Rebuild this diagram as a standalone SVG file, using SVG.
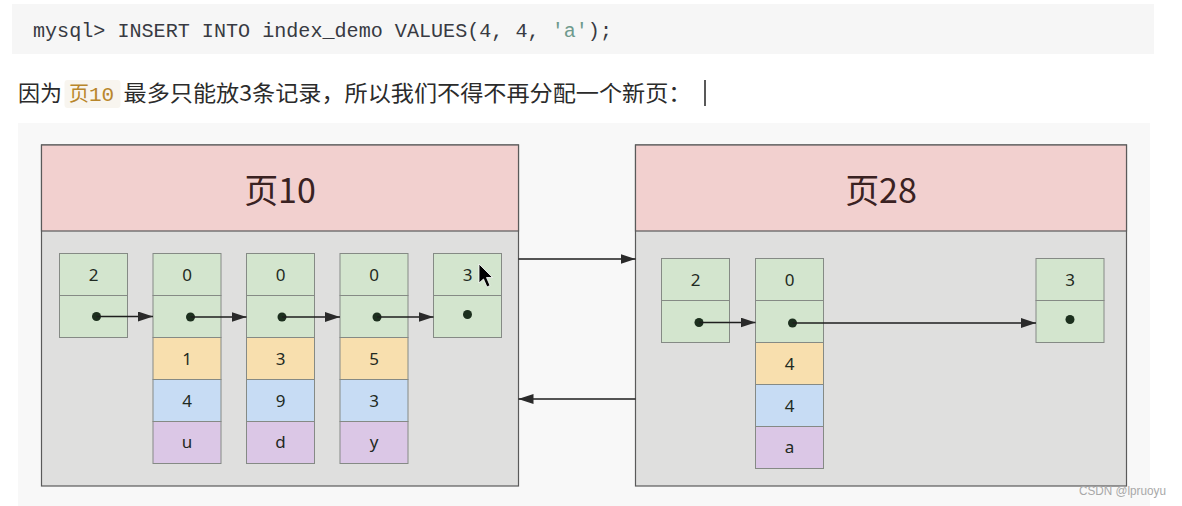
<svg xmlns="http://www.w3.org/2000/svg" width="1182" height="506" viewBox="0 0 1182 506">
<defs>
<style>
.page{fill:#dfdfde;stroke:#5a5a5a;stroke-width:1.2}
.head{fill:#f2d0cf;stroke:#5a5a5a;stroke-width:1.2}
.title{font-family:"Noto Sans CJK SC","Noto Sans",sans-serif;font-size:34px;fill:#3a2222;text-anchor:middle}
.g{fill:#d3e5ce;stroke:#858a85;stroke-width:1}
.y{fill:#f8dfae;stroke:#858a85;stroke-width:1}
.b{fill:#c7dcf4;stroke:#858a85;stroke-width:1}
.p{fill:#dbc7e6;stroke:#858a85;stroke-width:1}
.t{font-family:"Noto Sans","Open Sans",sans-serif;font-size:17px;fill:#1f2a22;text-anchor:middle}
.dot{fill:#1c2f1e}
.ln{stroke:#1e1e1e;stroke-width:1.5;fill:none}
</style>
<marker id="ah" markerWidth="15" markerHeight="10" refX="15" refY="5" orient="auto" markerUnits="userSpaceOnUse">
<path d="M0,0 L15,5 L0,10 Z" fill="#2a2a2a"/>
</marker>
</defs>
<rect x="0" y="0" width="1182" height="506" fill="#ffffff"/>
<!-- code block -->
<rect x="12" y="4" width="1142" height="50" fill="#f6f6f6"/>
<text x="33" y="37" font-family="Liberation Mono, DejaVu Sans Mono, monospace" font-size="20" fill="#383a42" textLength="579" lengthAdjust="spacingAndGlyphs">mysql&gt; INSERT INTO index_demo VALUES(4, 4, <tspan fill="#6f9a8d">'a'</tspan>);</text>
<!-- sentence -->
<text x="18" y="101" font-family="Noto Sans CJK SC, sans-serif" font-size="22" fill="#2b2b2b" textLength="44" lengthAdjust="spacingAndGlyphs">因为</text>
<rect x="64.5" y="80" width="56" height="28" rx="3" fill="#f8f5ef"/>
<text x="69" y="101" font-family="Noto Sans CJK SC, sans-serif" font-size="20" fill="#b8862b">页<tspan font-family="Liberation Mono, monospace" font-size="21">10</tspan></text>
<text x="123.5" y="101" font-family="Noto Sans CJK SC, sans-serif" font-size="22" fill="#2b2b2b" textLength="568" lengthAdjust="spacingAndGlyphs">最多只能放3条记录，所以我们不得不再分配一个新页：</text>
<line x1="705" y1="80" x2="705" y2="106" stroke="#222" stroke-width="1.5"/>
<!-- diagram panel -->
<rect x="18" y="123" width="1132" height="383" fill="#f8f8f8"/>

<g id="page10">
<rect class="page" x="41.5" y="145" width="477" height="341"/>
<rect class="head" x="41.5" y="145" width="477" height="86"/>
<text class="title" x="280" y="203">页10</text>
</g>
<g id="p10-rec1">
<rect class="g" x="59.5" y="253.5" width="68" height="42"/><rect class="g" x="59.5" y="295.5" width="68" height="42"/>
<text class="t" x="93.5" y="280.5">2</text><circle class="dot" cx="96.5" cy="316.5" r="4.5"/>
</g>
<g id="p10-rec2">
<rect class="g" x="153" y="253.5" width="68" height="42"/><rect class="g" x="153" y="295.5" width="68" height="42"/>
<rect class="y" x="153" y="337.5" width="68" height="42"/><rect class="b" x="153" y="379.5" width="68" height="42"/><rect class="p" x="153" y="421.5" width="68" height="42"/>
<text class="t" x="187" y="280.5">0</text><circle class="dot" cx="190.5" cy="317" r="4.5"/>
<text class="t" x="187" y="364.5">1</text><text class="t" x="187" y="406.5">4</text><text class="t" x="187" y="448">u</text>
</g>
<g id="p10-rec3">
<rect class="g" x="246.5" y="253.5" width="68" height="42"/><rect class="g" x="246.5" y="295.5" width="68" height="42"/>
<rect class="y" x="246.5" y="337.5" width="68" height="42"/><rect class="b" x="246.5" y="379.5" width="68" height="42"/><rect class="p" x="246.5" y="421.5" width="68" height="42"/>
<text class="t" x="280.5" y="280.5">0</text><circle class="dot" cx="282" cy="317" r="4.5"/>
<text class="t" x="280.5" y="364.5">3</text><text class="t" x="280.5" y="406.5">9</text><text class="t" x="280.5" y="448">d</text>
</g>
<g id="p10-rec4">
<rect class="g" x="340" y="253.5" width="68" height="42"/><rect class="g" x="340" y="295.5" width="68" height="42"/>
<rect class="y" x="340" y="337.5" width="68" height="42"/><rect class="b" x="340" y="379.5" width="68" height="42"/><rect class="p" x="340" y="421.5" width="68" height="42"/>
<text class="t" x="374" y="280.5">0</text><circle class="dot" cx="377" cy="317" r="4.5"/>
<text class="t" x="374" y="364.5">5</text><text class="t" x="374" y="406.5">3</text><text class="t" x="374" y="448">y</text>
</g>
<g id="p10-rec5">
<rect class="g" x="433.5" y="253.5" width="68" height="42"/><rect class="g" x="433.5" y="295.5" width="68" height="42"/>
<text class="t" x="467.5" y="280.5">3</text><circle class="dot" cx="467.5" cy="314.5" r="4.5"/>
</g>

<g id="page28">
<rect class="page" x="635.5" y="145" width="491" height="341"/>
<rect class="head" x="635.5" y="145" width="491" height="86"/>
<text class="title" x="881" y="203">页28</text>
</g>
<g id="p28-rec1">
<rect class="g" x="661.5" y="258.5" width="68" height="42"/><rect class="g" x="661.5" y="300.5" width="68" height="42"/>
<text class="t" x="695.5" y="285.5">2</text><circle class="dot" cx="699" cy="322.5" r="4.5"/>
</g>
<g id="p28-rec2">
<rect class="g" x="755.5" y="258.5" width="68" height="42"/><rect class="g" x="755.5" y="300.5" width="68" height="42"/>
<rect class="y" x="755.5" y="342.5" width="68" height="42"/><rect class="b" x="755.5" y="384.5" width="68" height="42"/><rect class="p" x="755.5" y="426.5" width="68" height="42"/>
<text class="t" x="789.5" y="285.5">0</text><circle class="dot" cx="792.5" cy="323" r="4.5"/>
<text class="t" x="789.5" y="369.5">4</text><text class="t" x="789.5" y="411.5">4</text><text class="t" x="789.5" y="453">a</text>
</g>
<g id="p28-rec3">
<rect class="g" x="1036" y="258.5" width="68" height="42"/><rect class="g" x="1036" y="300.5" width="68" height="42"/>
<text class="t" x="1070" y="285.5">3</text><circle class="dot" cx="1070" cy="319.5" r="4.5"/>
</g>

<g id="connectors">
<line class="ln" x1="96.5" y1="316.5" x2="153" y2="316.5" marker-end="url(#ah)"/>
<line class="ln" x1="190.5" y1="317" x2="246.5" y2="317" marker-end="url(#ah)"/>
<line class="ln" x1="282" y1="317" x2="340" y2="317" marker-end="url(#ah)"/>
<line class="ln" x1="377" y1="317" x2="433.5" y2="317" marker-end="url(#ah)"/>
<line class="ln" x1="699" y1="322.5" x2="755.5" y2="322.5" marker-end="url(#ah)"/>
<line class="ln" x1="792.5" y1="323" x2="1036" y2="323" marker-end="url(#ah)"/>
<line class="ln" x1="518.5" y1="259" x2="635.5" y2="259" marker-end="url(#ah)"/>
<line class="ln" x1="635.5" y1="399" x2="518.5" y2="399" marker-end="url(#ah)"/>
</g>

<path d="M479,264 L479,283 L483.5,279 L487,287 L490,285.5 L486.5,277.5 L492.5,277.5 Z" fill="#000" stroke="#fff" stroke-width="0.8"/>
<text x="1079" y="495" font-family="Liberation Sans, sans-serif" font-size="12.5" fill="#a8a8a8" textLength="87" lengthAdjust="spacingAndGlyphs">CSDN @lpruoyu</text>
</svg>
